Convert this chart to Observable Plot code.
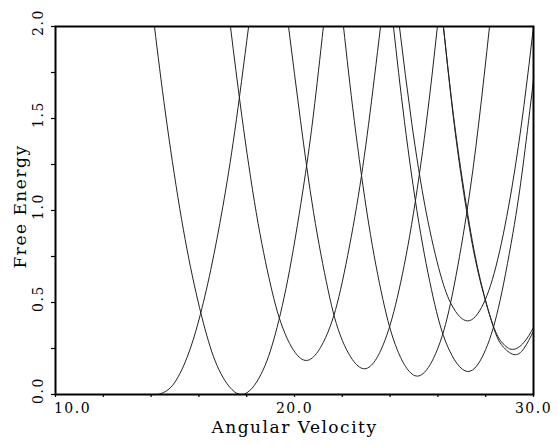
<!DOCTYPE html>
<html><head><meta charset="utf-8">
<script src="https://cdn.jsdelivr.net/npm/d3@7"></script>
<script src="https://cdn.jsdelivr.net/npm/@observablehq/plot@0.6"></script>
<style>
body{margin:0;background:#fff}
</style>
</head><body><div id="chart"></div>
<script>
// Free energy branches: [angular velocity, free energy]
const branch1 = [[14.3,0],[14.9,0.05],[15.5,0.2],[16.0,0.405],[16.5,0.68],[17.0,1.02],[17.5,1.43],[18.08,2.0]];
const branch2 = [[14.14,2.0],[14.6,1.53],[15.2,1.01],[15.8,0.6],[16.4,0.29],[17.0,0.095],[17.8,0],[18.6,0.11],[19.2,0.33],[19.8,0.68],[20.4,1.15],[20.8,1.53],[21.21,2.0]];
const branch3 = [[17.32,2.0],[17.8,1.51],[18.4,0.988],[19.0,0.595],[19.6,0.332],[20.5,0.185],[21.4,0.339],[22.0,0.613],[22.6,1.023],[23.1,1.469],[23.6,2.0]];
const branch4 = [[19.75,2.0],[20.25,1.49],[20.8,0.988],[21.4,0.571],[22.0,0.294],[22.89,0.14],[23.7,0.267],[24.3,0.526],[24.9,0.924],[25.5,1.46],[25.98,2.0]];
const branch5 = [[22.05,2.0],[22.5,1.49],[23.1,0.932],[23.7,0.516],[24.3,0.243],[25.15,0.1],[26.0,0.252],[26.6,0.541],[27.2,0.982],[27.7,1.465],[28.16,2.0]];
const branch6 = [[24.14,2.0],[24.6,1.484],[25.2,0.936],[25.8,0.529],[26.4,0.263],[27.24,0.125],[28.0,0.245],[28.6,0.51],[29.2,0.924],[29.6,1.283],[30.0,1.71]];
const branch7 = [[24.39,2.0],[24.9,1.48],[25.5,0.997],[26.1,0.656],[26.6,0.481],[27.24,0.4],[27.9,0.492],[28.5,0.733],[29.1,1.127],[29.6,1.57],[30.0,2.0]];
const branch8 = [[26.23,2.0],[26.7,1.45],[27.2,0.997],[27.7,0.655],[28.3,0.38],[28.7,0.28],[29.12,0.245],[29.6,0.283],[30.0,0.364]];
const branch9 = [[26.23,2.0],[26.7,1.467],[27.2,1.02],[27.7,0.666],[28.3,0.375],[28.7,0.264],[29.18,0.217],[29.6,0.25],[30.0,0.345]];

const xTicks = [10,12,14,16,18,20,22,24,26,28,30];
const xTickLabels = [20,30];
const xFirstLabel = [10];
const yTicks = [0,0.25,0.5,0.75,1.0,1.25,1.5,1.75,2.0];
const yTickLabels = [0,0.5,1.0,1.5,2.0];
const xTitle = "Angular Velocity";
const yTitle = "Free Energy";

const branches = [branch1,branch2,branch3,branch4,branch5,branch6,branch7,branch8,branch9];
const rows = branches.flatMap((b,i) => b.map(([w,f]) => ({branch: i+1, w, f})));

const font = "DejaVu Serif";
const plot = Plot.plot({
  width: 558, height: 445,
  marginLeft: 55, marginRight: 25, marginTop: 26, marginBottom: 51,
  x: {domain: [10,30]},
  y: {domain: [0,2]},
  style: {fontFamily: font, background: "white", color: "black"},
  marks: [
    Plot.line(rows, {x: "w", y: "f", z: "branch", curve: "natural", stroke: "#222", strokeWidth: 1, clip: true}),
    Plot.axisX({ticks: xTicks, tickSize: 3, tickFormat: () => "", label: null, strokeWidth: 1.2}),
    Plot.axisY({ticks: yTicks, tickSize: 4, tickFormat: () => "", label: null, strokeWidth: 1.2}),
    Plot.frame({stroke: "black", strokeWidth: 2}),
    Plot.text(xTickLabels, {x: d => d, frameAnchor: "bottom", dy: 18, text: d => d.toFixed(1), fontSize: 14, fill: "black"}),
    Plot.text(xFirstLabel, {x: d => d, frameAnchor: "bottom", dy: 18, dx: 17, text: d => d.toFixed(1), fontSize: 14, fill: "black"}),
    Plot.text(yTickLabels, {y: d => d, frameAnchor: "left", dx: -17, dy: -4, rotate: -90, textAnchor: "middle", lineAnchor: "middle", text: d => d.toFixed(1), fontSize: 14, fill: "black"}),
    Plot.text([xTitle], {frameAnchor: "bottom", dy: 38, fontSize: 17, fill: "black"}),
    Plot.text([yTitle], {frameAnchor: "left", dx: -35, dy: -4, rotate: -90, textAnchor: "middle", lineAnchor: "middle", fontSize: 17, fill: "black"})
  ]
});
d3.select(plot).selectAll("text").style("letter-spacing", "1.5px");
document.getElementById("chart").appendChild(plot);
</script>
</body></html>
